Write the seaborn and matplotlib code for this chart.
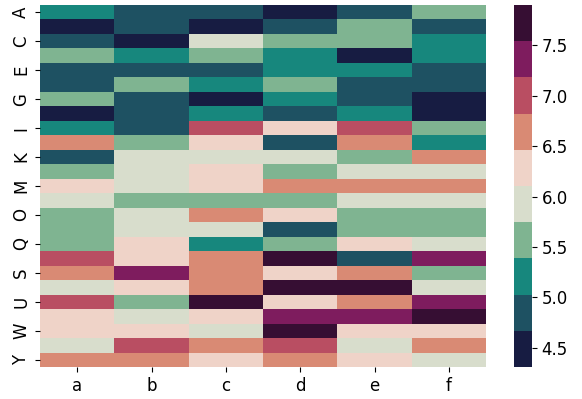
import numpy as np
import pandas as pd
import seaborn as sns
import matplotlib
matplotlib.use("Agg")
import matplotlib.pyplot as plt
from matplotlib.colors import ListedColormap

rows = list("ABCDEFGHIJKLMNOPQRSTUVWXY")
cols = list("abcdef")

col_a = [5.2, 4.5, 4.85, 5.55, 4.85, 4.85, 5.55, 4.5, 5.2, 6.65, 4.85, 5.55, 6.3, 5.95, 5.55, 5.55, 5.55, 7.0, 6.65, 5.95, 7.0, 6.3, 6.3, 5.95, 6.65]
col_b = [4.85, 4.85, 4.5, 5.2, 4.85, 5.55, 4.85, 4.85, 4.85, 5.55, 5.95, 5.95, 5.95, 5.55, 5.95, 5.95, 6.3, 6.3, 7.35, 6.3, 5.55, 5.95, 6.3, 7.0, 6.65]
col_c = [4.85, 4.5, 5.95, 5.55, 4.85, 5.2, 4.5, 5.2, 7.0, 6.3, 5.95, 6.3, 6.3, 5.55, 6.65, 5.95, 5.2, 6.65, 6.65, 6.65, 7.7, 6.3, 5.95, 6.65, 6.3]
col_d = [4.5, 4.85, 5.55, 5.2, 5.2, 5.55, 5.2, 4.85, 6.3, 4.85, 5.95, 5.55, 6.65, 5.55, 6.3, 4.85, 5.55, 7.7, 6.3, 7.7, 6.3, 7.35, 7.7, 7.0, 6.65]
col_e = [4.85, 5.55, 5.55, 4.5, 5.2, 4.85, 4.85, 5.2, 7.0, 6.65, 5.55, 5.95, 6.65, 5.95, 5.55, 5.55, 6.3, 4.85, 6.65, 7.7, 6.65, 7.35, 6.3, 5.95, 6.3]
col_f = [5.55, 4.85, 5.2, 5.2, 4.85, 4.85, 4.5, 4.5, 5.55, 5.2, 6.65, 5.95, 6.65, 5.95, 5.55, 5.55, 5.95, 7.35, 5.55, 5.95, 7.35, 7.7, 6.3, 6.65, 5.95]

palette = ["#171c42", "#1e5162", "#17877d", "#7fb491", "#d8ddcc",
           "#efd3c8", "#d98a74", "#b94e62", "#7e1c5e", "#360e33"]

df = pd.DataFrame({"a": col_a, "b": col_b, "c": col_c, "d": col_d, "e": col_e, "f": col_f}, index=rows)

plt.rcParams["xtick.labelsize"] = 12
plt.rcParams["ytick.labelsize"] = 12

W, H = 582, 399
fig = plt.figure(figsize=(W / 100, H / 100), dpi=100)
ax = fig.add_axes([40 / W, (H - 367) / H, (486 - 40) / W, (367 - 5) / H])
cax = fig.add_axes([514 / W, (H - 367) / H, 18 / W, (367 - 5) / H])
sns.heatmap(df, cmap=ListedColormap(palette), vmin=4.31, vmax=7.9, ax=ax, cbar_ax=cax)
cax.tick_params(labelsize=12)
fig.savefig("out.png", dpi=100)
